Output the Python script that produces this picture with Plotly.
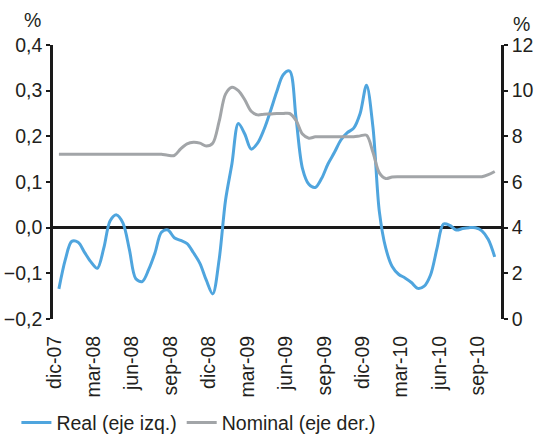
import plotly.graph_objects as go

# Tick labels (every 3 months, starting dic-07)
tick_labels = ["dic-07", "mar-08", "jun-08", "sep-08", "dic-08", "mar-09",
               "jun-09", "sep-09", "dic-09", "mar-10", "jun-10", "sep-10"]
tick_months = [0, 3, 6, 9, 12, 15, 18, 21, 24, 27, 30, 33]

# Real rate (left axis, %), semi-monthly readings
real = [-0.134, -0.070, -0.030, -0.032, -0.054, -0.075, -0.089, -0.045,
        0.015, 0.028, 0.010, -0.048, -0.112, -0.118, -0.092, -0.055,
        -0.010, -0.005, -0.022, -0.028, -0.035, -0.055, -0.078, -0.115,
        -0.145, -0.070, 0.060, 0.140, 0.228, 0.205, 0.172, 0.185,
        0.215, 0.255, 0.298, 0.335, 0.343, 0.240, 0.130, 0.095,
        0.088, 0.108, 0.140, 0.165, 0.192, 0.208, 0.218, 0.250,
        0.312, 0.220, 0.035, -0.045, -0.085, -0.102, -0.110, -0.120,
        -0.133, -0.128, -0.103, -0.045, 0.008, 0.005, -0.005, -0.002,
        0.000, 0.000, -0.007, -0.026, -0.064]

# Nominal rate (right axis, %), semi-monthly readings
nominal = [7.21, 7.21, 7.21, 7.21, 7.21, 7.21, 7.21, 7.21,
           7.21, 7.21, 7.21, 7.21, 7.21, 7.21, 7.21, 7.21,
           7.21, 7.17, 7.16, 7.45, 7.67, 7.74, 7.70, 7.58,
           7.70, 8.65, 9.85, 10.15, 10.00, 9.60, 9.10, 8.94,
           8.97, 8.98, 9.00, 9.00, 9.00, 8.70, 8.10, 7.92,
           7.98, 7.98, 7.98, 7.98, 7.98, 7.98, 7.98, 8.02,
           8.05, 7.30, 6.40, 6.15, 6.22, 6.23, 6.23, 6.23,
           6.23, 6.23, 6.23, 6.23, 6.23, 6.23, 6.23, 6.23,
           6.23, 6.23, 6.23, 6.32, 6.46]

# x position in months after dic-07 (semi-monthly observations)
x_pos = [0.3 + 0.5 * k for k in range(len(real))]

FONT = "Liberation Sans, Arial, sans-serif"
TXT = "#231F20"
FS = 19.5

fig = go.Figure()
fig.add_trace(go.Scatter(x=x_pos, y=real, name="Real (eje izq.)", mode="lines",
                         line=dict(color="#4FA5DE", width=3, shape="spline", smoothing=0.9),
                         yaxis="y"))
fig.add_trace(go.Scatter(x=x_pos, y=nominal, name="Nominal (eje der.)", mode="lines",
                         line=dict(color="#A2A5A8", width=3, shape="spline", smoothing=0.9),
                         yaxis="y2"))

fig.update_layout(
    width=547, height=435,
    margin=dict(l=53, r=46, t=45, b=116, autoexpand=False),
    paper_bgcolor="white", plot_bgcolor="white",
    separators=",.",
    font=dict(family=FONT, size=FS, color=TXT),
    showlegend=True,
    legend=dict(orientation="h", xref="container", yref="container",
                x=0.03, xanchor="left", y=0.028, yanchor="middle",
                font=dict(size=FS, color=TXT), itemwidth=30, tracegroupgap=0,
                bgcolor="rgba(0,0,0,0)"),
    xaxis=dict(range=[-0.16, 34.79], tickmode="array", tickvals=tick_months,
               ticktext=tick_labels, tickangle=-90, showgrid=False, zeroline=False,
               showline=False, ticks="outside", ticklen=8, tickcolor="rgba(0,0,0,0)",
               tickfont=dict(size=FS, color=TXT), automargin=False),
    yaxis=dict(range=[-0.2, 0.4], tickmode="array",
               tickvals=[-0.2, -0.1, 0.0, 0.1, 0.2, 0.3, 0.4],
               tickformat=".1f", showgrid=False, zeroline=True, zerolinecolor="#1a1a1a",
               zerolinewidth=2.5, showline=True, linecolor="#1a1a1a", linewidth=2.5,
               ticks="outside", ticklen=4, tickwidth=2, tickcolor="#1a1a1a",
               tickfont=dict(size=FS, color=TXT), automargin=False),
    yaxis2=dict(range=[0, 12], overlaying="y", side="right", tickmode="array",
                tickvals=[0, 2, 4, 6, 8, 10, 12], showgrid=False, zeroline=False,
                showline=True, linecolor="#1a1a1a", linewidth=2.5,
                ticks="outside", ticklen=4, tickwidth=2, tickcolor="#1a1a1a",
                tickfont=dict(size=FS, color=TXT), automargin=False),
    annotations=[
        dict(text="%", xref="paper", yref="paper", x=-0.045, y=1.09, showarrow=False,
             xanchor="center", yanchor="middle", font=dict(size=FS, color=TXT)),
        dict(text="%", xref="paper", yref="paper", x=1.045, y=1.075, showarrow=False,
             xanchor="center", yanchor="middle", font=dict(size=FS, color=TXT)),
    ],
)

fig.write_html("out.html", config={"displayModeBar": False},
               post_script="document.body.style.margin='0';document.body.style.padding='0';")
